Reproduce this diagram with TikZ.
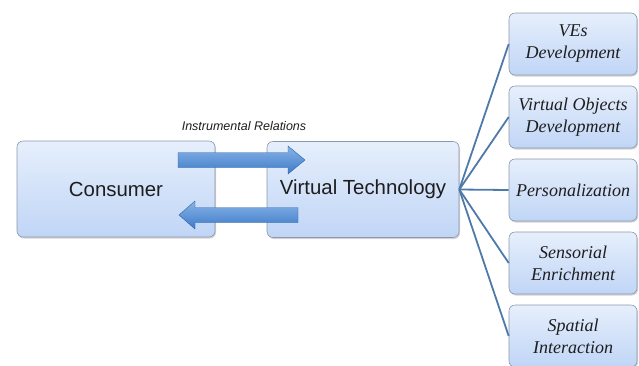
\documentclass[tikz,border=0pt]{standalone}
\usepackage{fontspec}
\setmainfont{Liberation Serif}
\setsansfont{Liberation Sans}
\usetikzlibrary{shadows}
\definecolor{boxtop}{RGB}{230,239,252}
\definecolor{boxbottom}{RGB}{192,213,246}
\definecolor{boxline}{RGB}{140,152,170}
\definecolor{arrowtop}{RGB}{135,180,232}
\definecolor{arrowbottom}{RGB}{62,122,200}
\definecolor{linkblue}{RGB}{78,122,170}
\definecolor{ink}{RGB}{30,30,30}

\begin{document}
\begin{tikzpicture}[x=1pt,y=-1pt,
  box/.style={draw=boxline,line width=0.6pt,rounded corners=6pt,
    top color=boxtop,bottom color=boxbottom,
    drop shadow={shadow xshift=1pt,shadow yshift=-1.5pt,opacity=0.35},
    text=ink,align=center,inner sep=2pt},
  bigbox/.style={box,minimum width=198pt,minimum height=96pt,
    font=\sffamily\fontsize{20.4}{24}\selectfont},
  smallbox/.style={box,minimum width=128pt,minimum height=62pt,
    font=\itshape\fontsize{18}{22}\selectfont},
  flow/.style={draw=arrowbottom!80!black,line width=0.4pt,
    top color=arrowtop,bottom color=arrowbottom},
  link/.style={draw=linkblue,line width=1.8pt}]
  \useasboundingbox (0,0) rectangle (639,365);

  \coordinate (A) at (178,152.5);
  \coordinate (B) at (288,152.5);
  \coordinate (C) at (288,146);
  \coordinate (D) at (305,160);
  \coordinate (E) at (288,174);
  \coordinate (F) at (288,167.5);
  \coordinate (G) at (178,167.5);
  \coordinate (H) at (298,207.5);
  \coordinate (I) at (195,207.5);
  \coordinate (J) at (195,201);
  \coordinate (K) at (179,215);
  \coordinate (L) at (195,229);
  \coordinate (M) at (195,222.5);
  \coordinate (N) at (298,222.5);

  \node[bigbox] (consumer) at (116,189) {Consumer};
  \node[bigbox,minimum width=192pt] (virtual) at (363,189.5) {Virtual Technology};

  \node[font=\sffamily\itshape\fontsize{12.5}{15}\selectfont,text=ink] (relations) at (244,126) {Instrumental Relations};

  \draw[flow] (A) -- (B) -- (C) -- (D) -- (E) -- (F) -- (G) -- cycle;
  \draw[flow] (H) -- (I) -- (J) -- (K) -- (L) -- (M) -- (N) -- cycle;

  \node[smallbox] (ves) at (573,44) {VEs\\Development};
  \node[smallbox] (objects) at (573,117) {Virtual Objects\\Development};
  \node[smallbox] (personal) at (573,190) {Personalization};
  \node[smallbox] (sensorial) at (573,263) {Sensorial\\Enrichment};
  \node[smallbox] (spatial) at (573,336) {Spatial\\Interaction};

  \foreach \t in {ves,objects,personal,sensorial,spatial}
    \draw[link] (virtual.east) -- (\t.west);
\end{tikzpicture}
\end{document}
